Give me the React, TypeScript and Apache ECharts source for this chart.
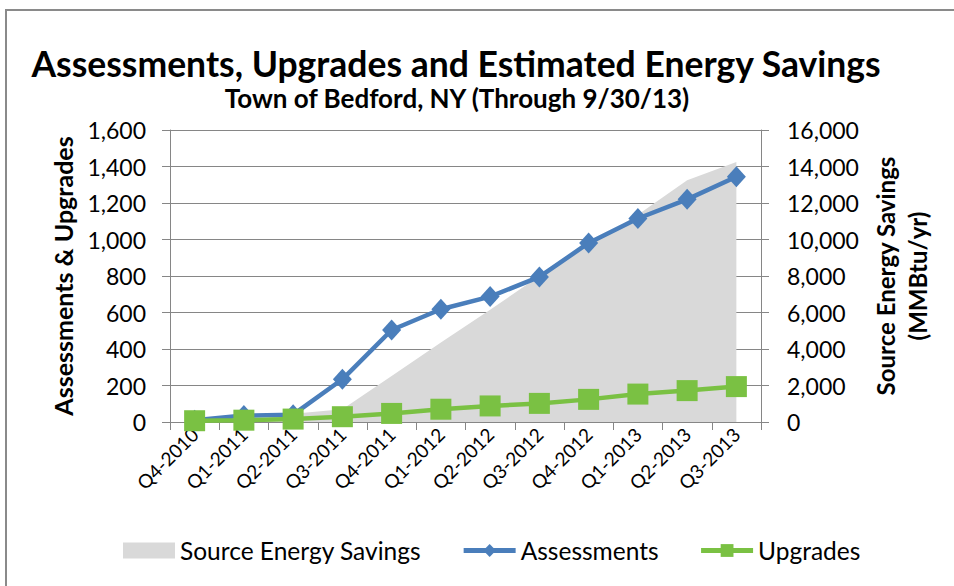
import React, { useEffect, useRef } from 'react';
import * as echarts from 'echarts';

const categories = ['Q4-2010', 'Q1-2011', 'Q2-2011', 'Q3-2011', 'Q4-2011', 'Q1-2012', 'Q2-2012', 'Q3-2012', 'Q4-2012', 'Q1-2013', 'Q2-2013', 'Q3-2013'];
const sourceEnergySavings = [0, 20, 450, 700, 2520, 4350, 6150, 8000, 9700, 11350, 13250, 14250];
const assessments = [10, 35, 40, 234, 504, 618, 687, 795, 981, 1115, 1220, 1344];
const upgrades = [7, 10, 16, 29, 47, 70, 88, 102, 124, 153, 172, 194];

const titleText = 'Assessments, Upgrades and Estimated Energy Savings';
const subtitleText = 'Town of Bedford, NY (Through 9/30/13)';
const leftAxisName = 'Assessments & Upgrades';
const rightAxisName = 'Source Energy Savings\n(MMBtu/yr)';

const FONT = 'Lato, "Open Sans", sans-serif';
const fmt = (v: number) => v.toLocaleString('en-US');

export default function App() {
  const ref = useRef<HTMLDivElement>(null);
  useEffect(() => {
    if (!ref.current) return;
    const chart = echarts.init(ref.current, undefined, { renderer: 'svg' });
    chart.setOption({
      animation: false,
      backgroundColor: '#ffffff',
      textStyle: { fontFamily: FONT },
      graphic: [
        { type: 'rect', shape: { x: 6, y: 10, width: 1000, height: 700 }, style: { fill: 'none', stroke: '#8a8a8a', lineWidth: 2 }, silent: true, z: -1 },
        { type: 'text', x: 456, y: 63, style: { text: titleText, font: `bold 35.5px ${FONT}`, fill: '#000', align: 'center', verticalAlign: 'middle' } },
        { type: 'text', x: 457, y: 98, style: { text: subtitleText, font: `bold 26px ${FONT}`, fill: '#000', align: 'center', verticalAlign: 'middle' } },
      ],
      grid: { left: 170, right: 193, top: 130, bottom: 164 },
      legend: {
        left: 123,
        top: 538,
        itemWidth: 52,
        itemHeight: 16,
        itemGap: 40,
        padding: 0,
        lineStyle: { width: 5 },
        textStyle: { fontSize: 24.5, color: '#000', fontFamily: FONT },
        data: [
          { name: 'Source Energy Savings', icon: 'rect' },
          { name: 'Assessments' },
          { name: 'Upgrades' },
        ],
      },
      xAxis: {
        type: 'category',
        data: categories,
        boundaryGap: true,
        axisLine: { lineStyle: { color: '#868686', width: 1 } },
        axisTick: { show: true, length: 8, lineStyle: { color: '#868686' } },
        axisLabel: { rotate: 45, fontSize: 19, color: '#000', margin: 9, fontFamily: FONT },
      },
      yAxis: [
        {
          type: 'value', min: 0, max: 1600, interval: 200, position: 'left',
          name: leftAxisName, nameLocation: 'middle', nameRotate: 90, nameGap: 95,
          nameTextStyle: { fontSize: 25, fontWeight: 'bold', color: '#000', fontFamily: FONT },
          axisLine: { show: true, lineStyle: { color: '#868686' } },
          axisTick: { show: true, length: 8, lineStyle: { color: '#868686' } },
          axisLabel: { fontSize: 23, color: '#000', margin: 24, formatter: fmt, fontFamily: FONT },
          splitLine: { show: true, lineStyle: { color: '#868686', width: 1 } },
        },
        {
          type: 'value', min: 0, max: 16000, interval: 2000, position: 'right',
          name: rightAxisName, nameLocation: 'middle', nameRotate: 90, nameGap: 108,
          nameTextStyle: { fontSize: 24, fontWeight: 'bold', color: '#000', lineHeight: 32, fontFamily: FONT },
          axisLine: { show: true, lineStyle: { color: '#868686' } },
          axisTick: { show: true, length: 8, lineStyle: { color: '#868686' } },
          axisLabel: { fontSize: 23, color: '#000', margin: 26, formatter: fmt, fontFamily: FONT },
          splitLine: { show: false },
        },
      ],
      series: [
        {
          name: 'Source Energy Savings', type: 'line', yAxisIndex: 1, data: sourceEnergySavings,
          symbol: 'none', lineStyle: { width: 0, opacity: 0 }, itemStyle: { color: '#D9D9D9' },
          areaStyle: { color: '#D9D9D9', opacity: 1 }, z: 1,
        },
        {
          name: 'Assessments', type: 'line', yAxisIndex: 0, data: assessments,
          symbol: 'diamond', symbolSize: [19, 21], lineStyle: { width: 4.5, color: '#4A7EBB' },
          itemStyle: { color: '#4A7EBB' }, z: 3,
        },
        {
          name: 'Upgrades', type: 'line', yAxisIndex: 0, data: upgrades,
          symbol: 'rect', symbolSize: 21, lineStyle: { width: 4.5, color: '#7AC143' },
          itemStyle: { color: '#7AC143' }, z: 4,
        },
      ],
    });
    return () => chart.dispose();
  }, []);
  return <div ref={ref} style={{ position: 'fixed', left: 0, top: 0, width: 954, height: 586 }} />;
}
